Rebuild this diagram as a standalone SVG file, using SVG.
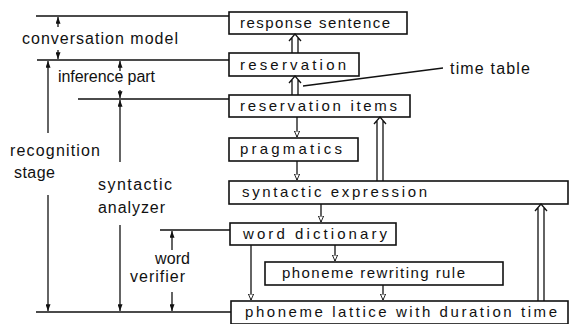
<svg xmlns="http://www.w3.org/2000/svg" width="575" height="324" viewBox="0 0 575 324">
<style>
.box{fill:#fff;stroke:#111;stroke-width:1.6}
.ln{fill:none;stroke:#111;stroke-width:1.3}
.bt{font-family:"Liberation Sans",Arial,sans-serif;font-size:15px;fill:#111}
.lt{font-family:"Liberation Sans",Arial,sans-serif;font-size:16px;fill:#111}
</style>
<defs>
<marker id="dim" viewBox="0 0 8 6" refX="8" refY="3" markerWidth="7" markerHeight="5" markerUnits="userSpaceOnUse" orient="auto"><path d="M0,0 L8,3 L0,6 z" fill="#111"/></marker>
<marker id="tri" viewBox="0 0 8 8" refX="8" refY="4" markerWidth="6" markerHeight="6" markerUnits="userSpaceOnUse" orient="auto"><path d="M0,0.5 L8,4 L0,7.5 z" fill="#fff" stroke="#111" stroke-width="1.2"/></marker>
</defs>
<g id="guides">
<path class="ln" d="M36,16 H229 M37,60 H229 M78,99 H229 M160,230 H230 M36,312 H231"/>
</g>
<g id="n-response"><rect class="box" x="229" y="12" width="178" height="22"/><text class="bt" x="240" y="28" textLength="150" lengthAdjust="spacing">response sentence</text></g>
<g id="n-reservation"><rect class="box" x="229" y="53" width="130" height="23"/><text class="bt" x="240" y="70" textLength="106" lengthAdjust="spacing">reservation</text></g>
<g id="n-items"><rect class="box" x="229" y="95" width="181" height="22"/><text class="bt" x="240" y="111" textLength="157" lengthAdjust="spacing">reservation items</text></g>
<g id="n-pragmatics"><rect class="box" x="229" y="138" width="129" height="23"/><text class="bt" x="240" y="154" textLength="102" lengthAdjust="spacing">pragmatics</text></g>
<g id="n-syntactic"><rect class="box" x="229" y="181" width="339" height="23"/><text class="bt" x="242" y="197" textLength="185" lengthAdjust="spacing">syntactic expression</text></g>
<g id="n-word"><rect class="box" x="230" y="223" width="166" height="22"/><text class="bt" x="243" y="239" textLength="144" lengthAdjust="spacing">word dictionary</text></g>
<g id="n-rewriting"><rect class="box" x="265" y="262" width="238" height="23"/><text class="bt" x="282" y="278" textLength="183" lengthAdjust="spacing">phoneme rewriting rule</text></g>
<g id="n-lattice"><rect class="box" x="231" y="301" width="337" height="23"/><text class="bt" x="245" y="317" textLength="312" lengthAdjust="spacing">phoneme lattice with duration time</text></g>
<g id="labels">
<text class="lt" x="22" y="44" textLength="156" lengthAdjust="spacing">conversation model</text>
<text class="lt" x="58" y="82" textLength="97" lengthAdjust="spacing">inference part</text>
<text class="lt" x="10" y="156" textLength="90" lengthAdjust="spacing">recognition</text>
<text class="lt" x="14" y="178" textLength="41" lengthAdjust="spacing">stage</text>
<text class="lt" x="98" y="190" textLength="74" lengthAdjust="spacing">syntactic</text>
<text class="lt" x="98" y="213" textLength="67" lengthAdjust="spacing">analyzer</text>
<text class="lt" x="155" y="264" textLength="35" lengthAdjust="spacing">word</text>
<text class="lt" x="130" y="282" textLength="55" lengthAdjust="spacing">verifier</text>
<text class="lt" x="450" y="74" textLength="80" lengthAdjust="spacing">time table</text>
</g>
<g id="connectors">
<path class="ln" d="M58,27 V17" marker-end="url(#dim)"/>
<path class="ln" d="M58,50 V59" marker-end="url(#dim)"/>
<path class="ln" d="M120,71 V61" marker-end="url(#dim)"/>
<path class="ln" d="M120,90 V98" marker-end="url(#dim)"/>
<path class="ln" d="M120,162 V100" marker-end="url(#dim)"/>
<path class="ln" d="M120,225 V311" marker-end="url(#dim)"/>
<path class="ln" d="M48,133 V61" marker-end="url(#dim)"/>
<path class="ln" d="M48,195 V311" marker-end="url(#dim)"/>
<path class="ln" d="M172,250 V231" marker-end="url(#dim)"/>
<path class="ln" d="M172,292 V311" marker-end="url(#dim)"/>
<path class="ln" d="M297,117 V137" marker-end="url(#tri)"/>
<path class="ln" d="M297,161 V180" marker-end="url(#tri)"/>
<path class="ln" d="M321,204 V222" marker-end="url(#tri)"/>
<path class="ln" d="M335,245 V261" marker-end="url(#tri)"/>
<path class="ln" d="M383,285 V300" marker-end="url(#tri)"/>
<path class="ln" d="M251,245 V300" marker-end="url(#tri)"/>
<path class="ln" d="M292,53 V38 M298,53 V38 M289,41 L295,34 L301,41"/>
<path class="ln" d="M292,95 V80 M298,95 V80 M289,83 L295,76 L301,83"/>
<path class="ln" d="M377,181 V121 M383,181 V121 M374,124 L380,117 L386,124"/>
<path class="ln" d="M538,301 V208 M544,301 V208 M535,211 L541,204 L547,211"/>
<path class="ln" d="M303,86 L443,68"/>
</g>
</svg>
